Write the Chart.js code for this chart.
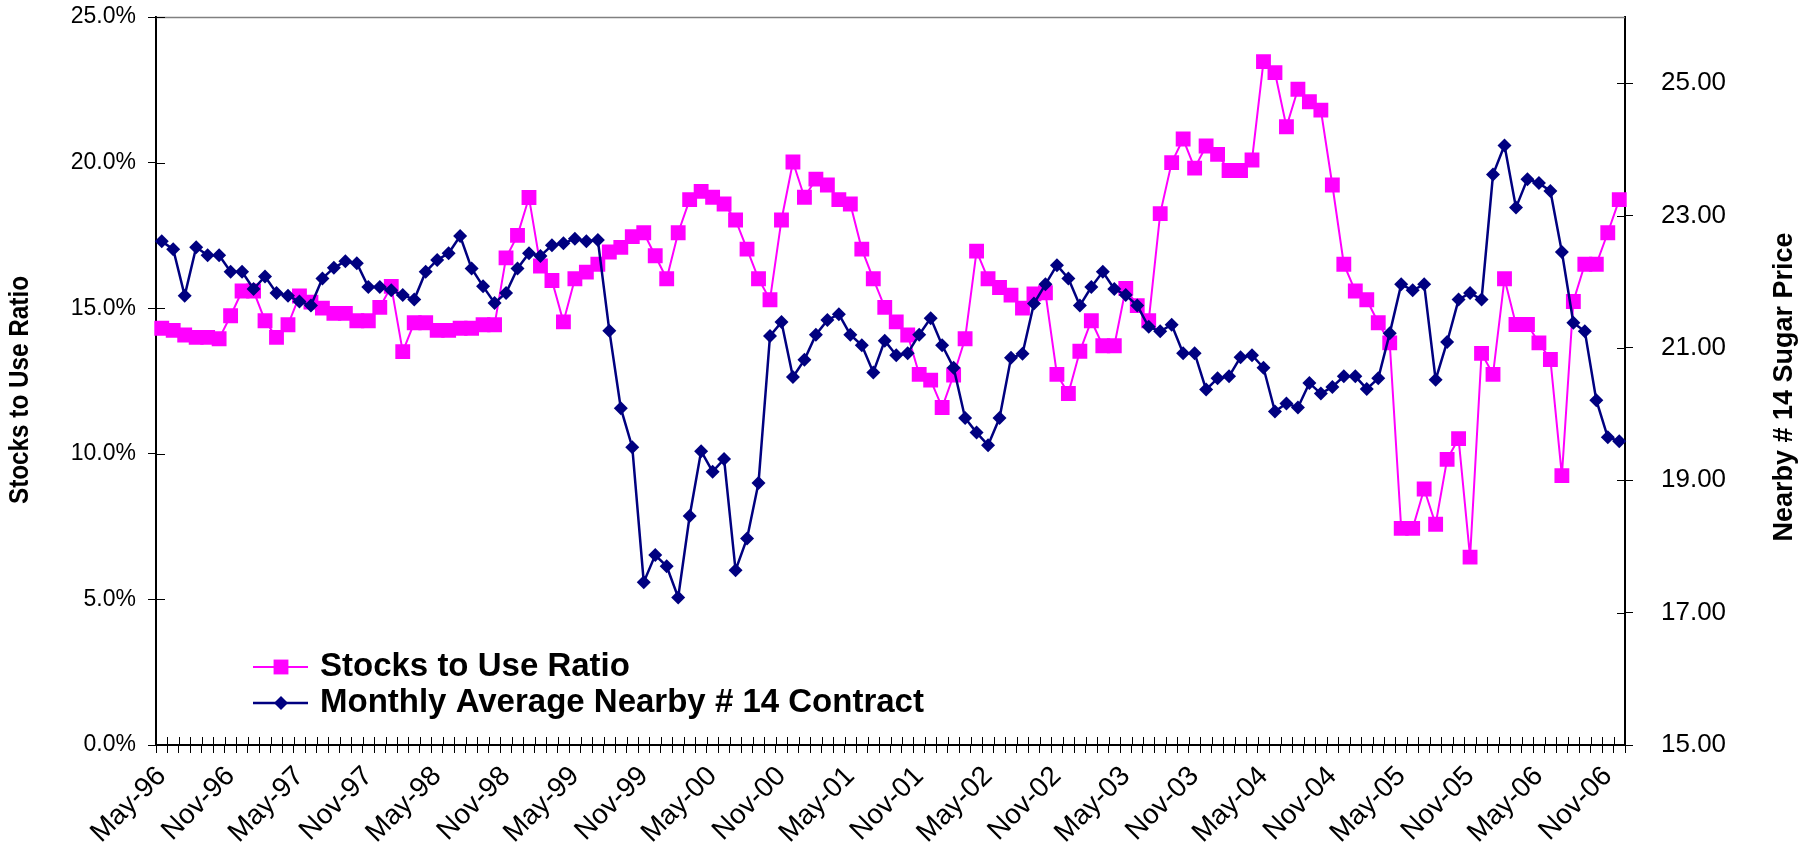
<!DOCTYPE html>
<html>
<head>
<meta charset="utf-8">
<title>Sugar stocks to use ratio vs nearby #14 price</title>
<script src="https://cdn.jsdelivr.net/npm/chart.js@4.4.1/dist/chart.umd.min.js"></script>
<style>
  html, body { margin: 0; padding: 0; background: #ffffff; }
  #wrap { width: 1810px; height: 856px; }
</style>
</head>
<body>
<div id="wrap"><canvas id="sugarChart" width="1810" height="856"></canvas></div>
<script>
// monthly categories, May-96 .. Dec-06
const months = [
  'May-96', 'Jun-96', 'Jul-96', 'Aug-96', 'Sep-96', 'Oct-96', 'Nov-96', 'Dec-96',
  'Jan-97', 'Feb-97', 'Mar-97', 'Apr-97', 'May-97', 'Jun-97', 'Jul-97', 'Aug-97', 'Sep-97', 'Oct-97', 'Nov-97', 'Dec-97',
  'Jan-98', 'Feb-98', 'Mar-98', 'Apr-98', 'May-98', 'Jun-98', 'Jul-98', 'Aug-98', 'Sep-98', 'Oct-98', 'Nov-98', 'Dec-98',
  'Jan-99', 'Feb-99', 'Mar-99', 'Apr-99', 'May-99', 'Jun-99', 'Jul-99', 'Aug-99', 'Sep-99', 'Oct-99', 'Nov-99', 'Dec-99',
  'Jan-00', 'Feb-00', 'Mar-00', 'Apr-00', 'May-00', 'Jun-00', 'Jul-00', 'Aug-00', 'Sep-00', 'Oct-00', 'Nov-00', 'Dec-00',
  'Jan-01', 'Feb-01', 'Mar-01', 'Apr-01', 'May-01', 'Jun-01', 'Jul-01', 'Aug-01', 'Sep-01', 'Oct-01', 'Nov-01', 'Dec-01',
  'Jan-02', 'Feb-02', 'Mar-02', 'Apr-02', 'May-02', 'Jun-02', 'Jul-02', 'Aug-02', 'Sep-02', 'Oct-02', 'Nov-02', 'Dec-02',
  'Jan-03', 'Feb-03', 'Mar-03', 'Apr-03', 'May-03', 'Jun-03', 'Jul-03', 'Aug-03', 'Sep-03', 'Oct-03', 'Nov-03', 'Dec-03',
  'Jan-04', 'Feb-04', 'Mar-04', 'Apr-04', 'May-04', 'Jun-04', 'Jul-04', 'Aug-04', 'Sep-04', 'Oct-04', 'Nov-04', 'Dec-04',
  'Jan-05', 'Feb-05', 'Mar-05', 'Apr-05', 'May-05', 'Jun-05', 'Jul-05', 'Aug-05', 'Sep-05', 'Oct-05', 'Nov-05', 'Dec-05',
  'Jan-06', 'Feb-06', 'Mar-06', 'Apr-06', 'May-06', 'Jun-06', 'Jul-06', 'Aug-06', 'Sep-06', 'Oct-06', 'Nov-06', 'Dec-06'
];

// stocks to use ratio, percent
const stocksToUse = [
  14.31, 14.24, 14.08, 14.00, 14.00, 13.95, 14.74, 15.59,
  15.59, 14.57, 14.00, 14.43, 15.42, 15.21, 15.00, 14.82, 14.82, 14.57, 14.57, 15.03,
  15.75, 13.51, 14.50, 14.50, 14.24, 14.24, 14.31, 14.31, 14.43, 14.43, 16.73, 17.50,
  18.80, 16.45, 15.95, 14.53, 16.01, 16.24, 16.51, 16.93, 17.09, 17.46, 17.59, 16.80,
  16.01, 17.59, 18.73, 19.01, 18.81, 18.58, 18.03, 17.03, 16.01, 15.29, 18.03, 20.02,
  18.81, 19.43, 19.23, 18.73, 18.58, 17.03, 16.01, 15.03, 14.53, 14.08, 12.73, 12.53,
  11.59, 12.70, 13.95, 16.96, 16.01, 15.71, 15.45, 15.00, 15.49, 15.53, 12.73, 12.07,
  13.52, 14.57, 13.71, 13.71, 15.68, 15.09, 14.57, 18.25, 20.00, 20.81, 19.81, 20.57,
  20.28, 19.73, 19.73, 20.09, 23.47, 23.09, 21.23, 22.52, 22.09, 21.80, 19.23, 16.51,
  15.59, 15.29, 14.50, 13.81, 7.44, 7.44, 8.79, 7.58, 9.81, 10.52, 6.45, 13.45,
  12.73, 16.01, 14.44, 14.44, 13.81, 13.24, 9.25, 15.23, 16.51, 16.51, 17.59, 18.73
];

// monthly average nearby #14 contract, cents/lb
const nearbyPrice = [
  22.61, 22.49, 21.79, 22.52, 22.40, 22.40, 22.15, 22.15,
  21.89, 22.08, 21.83, 21.79, 21.70, 21.64, 22.05, 22.21, 22.31, 22.28, 21.92, 21.92,
  21.87, 21.80, 21.73, 22.15, 22.33, 22.43, 22.69, 22.20, 21.93, 21.68, 21.83, 22.20,
  22.43, 22.39, 22.55, 22.58, 22.65, 22.61, 22.63, 21.26, 20.09, 19.50, 17.46, 17.87,
  17.70, 17.23, 18.46, 19.44, 19.13, 19.32, 17.64, 18.12, 18.96, 21.18, 21.39, 20.56,
  20.82, 21.20, 21.42, 21.51, 21.20, 21.04, 20.63, 21.11, 20.89, 20.92, 21.20, 21.45,
  21.04, 20.70, 19.94, 19.72, 19.53, 19.94, 20.85, 20.91, 21.67, 21.96, 22.25, 22.05,
  21.64, 21.92, 22.15, 21.89, 21.80, 21.64, 21.32, 21.25, 21.35, 20.92, 20.92, 20.37,
  20.54, 20.57, 20.86, 20.89, 20.70, 20.04, 20.16, 20.10, 20.47, 20.31, 20.41, 20.57,
  20.57, 20.38, 20.54, 21.22, 21.96, 21.87, 21.96, 20.52, 21.09, 21.73, 21.83, 21.73,
  23.62, 24.06, 23.12, 23.55, 23.49, 23.37, 22.45, 21.38, 21.25, 20.21, 19.65, 19.59
];

const ratioTicks = [0, 5, 10, 15, 20, 25];
const priceTicks = [15, 17, 19, 21, 23, 25];

const FONT = "'Liberation Sans', Arial, Helvetica, sans-serif";
const PINK = '#FF00FF';
const NAVY = '#000080';
const AXIS = '#000000';

Chart.defaults.font.family = FONT;
Chart.defaults.color = '#000';

// short marks on the inner side of each axis, plus the grey top edge
const frame = {
  id: 'frame',
  beforeDatasetsDraw(chart) {
    const { ctx, chartArea: a, scales } = chart;
    ctx.save();
    ctx.strokeStyle = '#808080';
    ctx.lineWidth = 1.5;
    ctx.beginPath();
    ctx.moveTo(a.left, a.top + 0.5);
    ctx.lineTo(a.right, a.top + 0.5);
    ctx.stroke();

    ctx.strokeStyle = AXIS;
    ctx.lineWidth = 1;
    ctx.beginPath();
    scales.y.ticks.forEach((t, i) => {
      const py = Math.round(scales.y.getPixelForTick(i)) + 0.5;
      ctx.moveTo(a.left, py);
      ctx.lineTo(a.left + 9, py);
    });
    scales.y1.ticks.forEach((t, i) => {
      const py = Math.round(scales.y1.getPixelForTick(i)) + 0.5;
      ctx.moveTo(a.right - 8, py);
      ctx.lineTo(a.right, py);
    });
    const step = (scales.x.right - scales.x.left) / months.length;
    for (let k = 0; k <= months.length; k++) {
      const px = Math.round(scales.x.left + k * step) + 0.5;
      ctx.moveTo(px, a.bottom);
      ctx.lineTo(px, a.bottom - 8);
    }
    ctx.stroke();
    ctx.restore();
  }
};

// vertical axis titles, both reading bottom to top
const axisTitles = {
  id: 'axisTitles',
  afterDraw(chart) {
    const { ctx, chartArea: a } = chart;
    const midY = (a.top + a.bottom) / 2;
    const put = (text, x, y, maxWidth) => {
      ctx.save();
      ctx.translate(x, y);
      ctx.rotate(-Math.PI / 2);
      ctx.font = 'bold 27px ' + FONT;
      ctx.fillStyle = '#000';
      ctx.textAlign = 'center';
      ctx.textBaseline = 'middle';
      ctx.fillText(text, 0, 0, maxWidth);
      ctx.restore();
    };
    put('Stocks to Use Ratio', a.left - 135, midY + 9, 228);
    put('Nearby # 14 Sugar Price', a.right + 160, midY + 6, 320);
  }
};

// key in the lower left of the plot: line, marker, bold label
const seriesKey = {
  id: 'seriesKey',
  afterDraw(chart) {
    const { ctx, chartArea: a } = chart;
    const x0 = a.left + 97;
    const rows = [a.bottom - 78, a.bottom - 42];
    chart.data.datasets.forEach((ds, i) => {
      const y = rows[i];
      ctx.save();
      ctx.strokeStyle = ds.borderColor;
      ctx.fillStyle = ds.backgroundColor;
      ctx.lineWidth = ds.borderWidth;
      ctx.beginPath();
      ctx.moveTo(x0, y);
      ctx.lineTo(x0 + 55, y);
      ctx.stroke();
      Chart.helpers.drawPoint(ctx, {
        pointStyle: ds.pointStyle, radius: ds.pointRadius, rotation: 0, borderWidth: 0
      }, x0 + 28, y);
      ctx.font = 'bold 33px ' + FONT;
      ctx.fillStyle = '#000';
      ctx.textAlign = 'left';
      ctx.textBaseline = 'middle';
      ctx.fillText(ds.label, x0 + 67, y);
      ctx.restore();
    });
  }
};

// keep the plot edges fixed: no extra room above/below for half-height labels
const noEdgePadding = scale => {
  scale.paddingTop = 0;
  scale.paddingBottom = 0;
};

new Chart(document.getElementById('sugarChart'), {
  type: 'line',
  data: {
    labels: months,
    datasets: [
      {
        label: 'Stocks to Use Ratio',
        data: stocksToUse,
        yAxisID: 'y',
        borderColor: PINK,
        backgroundColor: PINK,
        borderWidth: 2,
        pointStyle: 'rect',
        pointRadius: 10.5,
        pointBorderWidth: 0,
        tension: 0,
        order: 1
      },
      {
        label: 'Monthly Average Nearby # 14 Contract',
        data: nearbyPrice,
        yAxisID: 'y1',
        borderColor: NAVY,
        backgroundColor: NAVY,
        borderWidth: 2.5,
        pointStyle: 'rectRot',
        pointRadius: 7,
        pointBorderWidth: 0,
        tension: 0,
        order: 0
      }
    ]
  },
  options: {
    responsive: false,
    animation: false,
    events: [],
    layout: { padding: { top: 17, left: 0, right: 0, bottom: 0 } },
    plugins: {
      legend: { display: false },
      tooltip: { enabled: false }
    },
    scales: {
      x: {
        type: 'category',
        offset: true,
        grid: { offset: true, drawOnChartArea: false, tickLength: 8, color: AXIS, lineWidth: 1 },
        border: { color: AXIS, width: 2 },
        ticks: {
          autoSkip: false,
          minRotation: 45,
          maxRotation: 45,
          padding: 7,
          color: '#000',
          font: { size: 28 },
          callback(value, index) {
            return index % 6 === 0 ? this.getLabelForValue(value) : '';
          }
        },
        afterFit(scale) { scale.height = 111; }
      },
      y: {
        position: 'left',
        min: 0,
        max: 25,
        afterBuildTicks(scale) { scale.ticks = ratioTicks.map(v => ({ value: v })); },
        grid: { drawOnChartArea: false, tickLength: 8, color: AXIS },
        border: { color: AXIS, width: 2 },
        ticks: {
          padding: 12,
          color: '#000',
          font: { size: 23 },
          callback: v => v.toFixed(1) + '%'
        },
        afterFit(scale) {
          scale.width = 156;
          noEdgePadding(scale);
        }
      },
      y1: {
        position: 'right',
        min: 15,
        max: 26,
        afterBuildTicks(scale) { scale.ticks = priceTicks.map(v => ({ value: v })); },
        grid: { drawOnChartArea: false, tickLength: 8, color: AXIS },
        border: { color: AXIS, width: 2 },
        ticks: {
          padding: 28,
          color: '#000',
          font: { size: 26 },
          callback: v => v.toFixed(2)
        },
        afterFit(scale) {
          scale.width = 185;
          noEdgePadding(scale);
        }
      }
    }
  },
  plugins: [frame, axisTitles, seriesKey]
});
</script>
</body>
</html>
